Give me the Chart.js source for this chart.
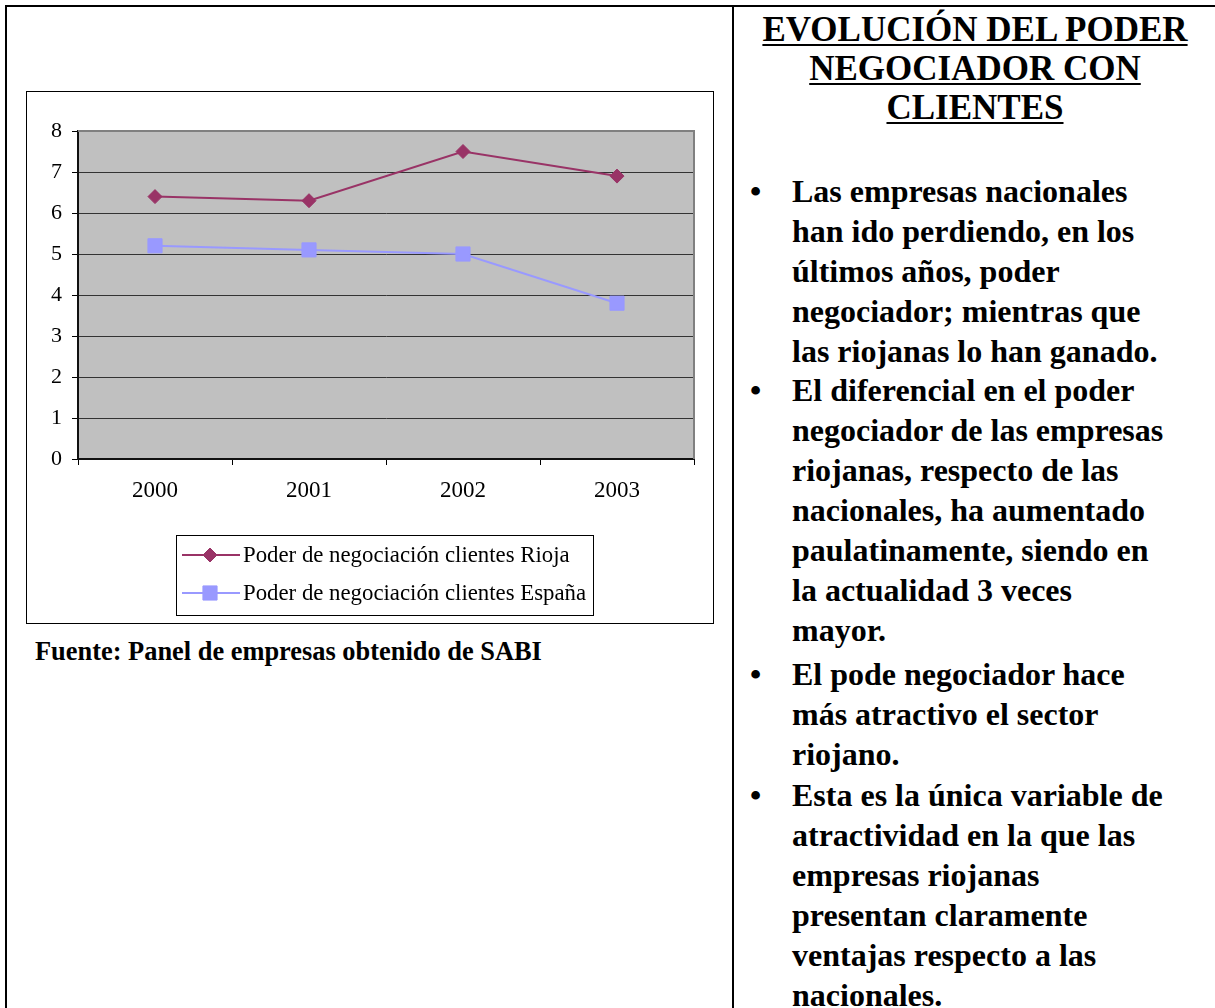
<!DOCTYPE html>
<html>
<head>
<meta charset="utf-8">
<script src="https://cdn.jsdelivr.net/npm/chart.js@4/dist/chart.umd.min.js"></script>
<style>
html,body{margin:0;padding:0;background:#fff;}
body{width:1215px;height:1008px;position:relative;overflow:hidden;font-family:"Liberation Serif","Times New Roman",serif;color:#000;}
.ln{position:absolute;background:#000;}
#wrap{position:absolute;left:26px;top:91px;width:688px;height:533px;}
#frame{position:absolute;left:26px;top:91px;width:688px;height:533px;box-sizing:border-box;border:1px solid #000;pointer-events:none;}
#fuente{position:absolute;left:35px;top:636px;font-weight:bold;font-size:26.4px;line-height:30px;white-space:nowrap;}
#title{position:absolute;left:735px;width:480px;top:10px;text-align:center;font-weight:bold;font-size:35px;line-height:39px;}
#title span{text-decoration:underline;text-decoration-thickness:2px;text-underline-offset:3px;}
.bul{position:absolute;left:792px;font-weight:bold;font-size:32px;line-height:40px;white-space:nowrap;}
.dot{position:absolute;left:-42px;top:0;}
</style>
</head>
<body>
<div class="ln" style="left:5px;top:5px;width:1210px;height:2px;"></div>
<div class="ln" style="left:5px;top:5px;width:2px;height:1003px;"></div>
<div class="ln" style="left:732px;top:5px;width:2px;height:1003px;"></div>

<div id="wrap"><canvas id="c" width="688" height="533"></canvas></div>
<div id="frame"></div>
<div id="fuente">Fuente: Panel de empresas obtenido de SABI</div>

<div id="title"><span>EVOLUCIÓN DEL PODER</span><br><span>NEGOCIADOR CON</span><br><span>CLIENTES</span></div>

<div class="bul" style="top:171px;"><span class="dot">•</span>Las empresas nacionales<br>han ido perdiendo, en los<br>últimos años, poder<br>negociador; mientras que<br>las riojanas lo han ganado.</div>
<div class="bul" style="top:370px;"><span class="dot">•</span>El diferencial en el poder<br>negociador de las empresas<br>riojanas, respecto de las<br>nacionales, ha aumentado<br>paulatinamente, siendo en<br>la actualidad 3 veces<br>mayor.</div>
<div class="bul" style="top:654px;"><span class="dot">•</span>El pode negociador hace<br>más atractivo el sector<br>riojano.</div>
<div class="bul" style="top:775px;"><span class="dot">•</span>Esta es la única variable de<br>atractividad en la que las<br>empresas riojanas<br>presentan claramente<br>ventajas respecto a las<br>nacionales.</div>

<script>
// ---- data ----
const categories = ['2000', '2001', '2002', '2003'];
const riojaValues = [6.4, 6.3, 7.5, 6.9];
const espanaValues = [5.2, 5.1, 5.0, 3.8];
const seriesNames = ['Poder de negociación clientes Rioja', 'Poder de negociación clientes España'];
const yMin = 0;
const yMax = 8;
const yStep = 1;

const FONT = '"Liberation Serif", "Times New Roman", serif';

const plotBackground = {
  id: 'plotBackground',
  beforeDraw(chart) {
    const a = chart.chartArea, ctx = chart.ctx;
    ctx.save();
    ctx.fillStyle = '#C0C0C0';
    ctx.fillRect(a.left, a.top, a.right - a.left, a.bottom - a.top);
    ctx.restore();
  },
  beforeDatasetsDraw(chart) {
    const a = chart.chartArea, ctx = chart.ctx;
    ctx.save();
    ctx.strokeStyle = '#808080';
    ctx.lineWidth = 2;
    ctx.beginPath();
    ctx.moveTo(a.left, a.top);
    ctx.lineTo(a.right, a.top);
    ctx.lineTo(a.right, a.bottom);
    ctx.stroke();
    ctx.restore();
  }
};

const boxedLegend = {
  id: 'boxedLegend',
  afterDraw(chart) {
    const ctx = chart.ctx;
    const box = {x: 150.5, y: 444.5, w: 417, h: 80};
    ctx.save();
    ctx.strokeStyle = '#000';
    ctx.lineWidth = 1;
    ctx.strokeRect(box.x, box.y, box.w, box.h);
    chart.data.datasets.forEach((ds, i) => {
      const y = 464 + i * 38;
      ctx.strokeStyle = ds.borderColor;
      ctx.lineWidth = 2;
      ctx.beginPath();
      ctx.moveTo(156, y);
      ctx.lineTo(214, y);
      ctx.stroke();
      ctx.fillStyle = ds.pointBackgroundColor;
      ctx.strokeStyle = ds.pointBorderColor;
      ctx.lineWidth = 1;
      Chart.helpers.drawPoint(ctx, {pointStyle: ds.pointStyle, radius: ds.pointRadius, borderWidth: 1, rotation: 0}, 184, y);
      ctx.fillStyle = '#000';
      ctx.font = '22.8px ' + FONT;
      ctx.textBaseline = 'middle';
      ctx.textAlign = 'left';
      ctx.fillText(ds.label, 217, y + 1);
    });
    ctx.restore();
  }
};

new Chart(document.getElementById('c'), {
  type: 'line',
  data: {
    labels: categories,
    datasets: [
      {
        label: seriesNames[0],
        data: riojaValues,
        borderColor: '#993366',
        backgroundColor: '#993366',
        pointBackgroundColor: '#993366',
        pointBorderColor: '#993366',
        pointStyle: 'rectRot',
        pointRadius: 7,
        pointBorderWidth: 1,
        borderWidth: 2,
        tension: 0,
        fill: false
      },
      {
        label: seriesNames[1],
        data: espanaValues,
        borderColor: '#9999FF',
        backgroundColor: '#9999FF',
        pointBackgroundColor: '#9999FF',
        pointBorderColor: '#9999FF',
        pointStyle: 'rect',
        pointRadius: 10,
        pointBorderWidth: 1,
        borderWidth: 2,
        tension: 0,
        fill: false
      }
    ]
  },
  options: {
    responsive: false,
    animation: false,
    devicePixelRatio: 1,
    layout: {padding: {left: 0, top: 40, right: 20, bottom: 0}},
    plugins: {legend: {display: false}, tooltip: {enabled: false}, title: {display: false}},
    scales: {
      x: {
        type: 'category',
        offset: true,
        afterFit(s) { s.height = 165; },
        grid: {display: true, drawOnChartArea: false, drawTicks: true, tickLength: 6, color: '#000', tickColor: '#000', offset: true},
        border: {display: true, color: '#111', width: 2},
        ticks: {color: '#000', font: {family: FONT, size: 23}, padding: 12, maxRotation: 0}
      },
      y: {
        min: yMin,
        max: yMax,
        afterFit(s) { s.width = 52; },
        grid: {color: '#333', lineWidth: 1, drawTicks: true, tickLength: 6, tickColor: '#000'},
        border: {display: true, color: '#111', width: 2},
        ticks: {stepSize: yStep, color: '#000', font: {family: FONT, size: 22}, padding: 10}
      }
    }
  },
  plugins: [plotBackground, boxedLegend]
});
</script>
</body>
</html>
